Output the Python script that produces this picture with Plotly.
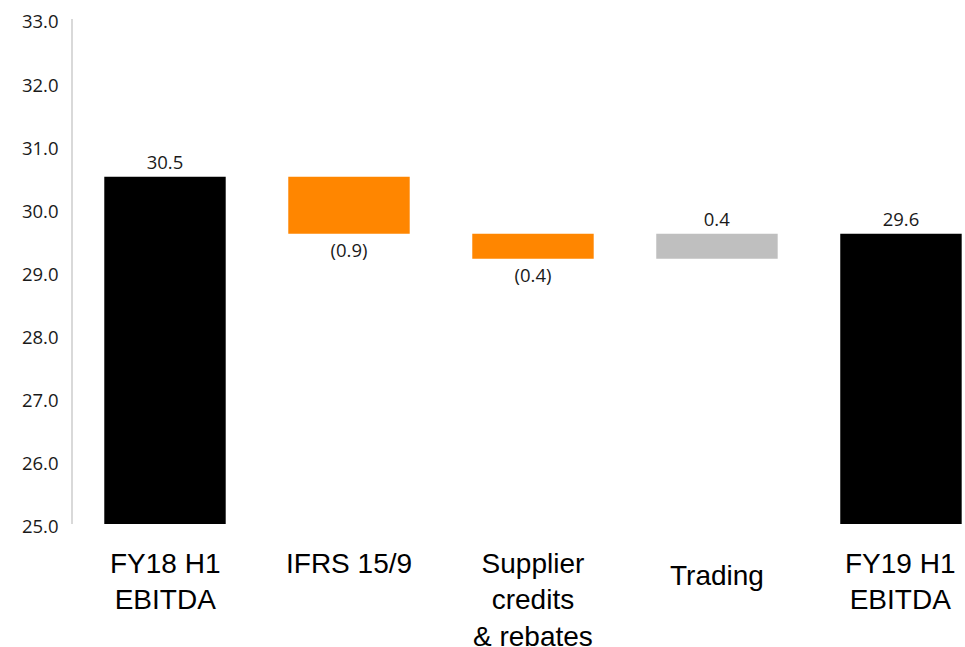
import plotly.graph_objects as go

# EBITDA bridge, FY18 H1 -> FY19 H1
categories = ["FY18 H1<br>EBITDA", "IFRS 15/9", "Supplier<br>credits<br>& rebates", "Trading", "FY19 H1<br>EBITDA"]
values = [30.5, -0.9, -0.4, 0.4, 29.6]
measures = ["absolute", "relative", "relative", "relative", "total"]
value_labels = ["30.5", "(0.9)", "(0.4)", "0.4", "29.6"]
bar_colors = ["#000000", "#FF8600", "#FF8600", "#BFBFBF", "#000000"]
y_ticks = [25, 26, 27, 28, 29, 30, 31, 32, 33]
label_drop = [0, 0, 0, 12, 0]  # extra downward offset of each category label (px)

axis_floor = y_ticks[0]

# Build floating bars: each bar starts at a base and spans a signed height
bases, heights = [], []
running = 0.0
for v, m in zip(values, measures):
    if m == "absolute":
        bases.append(axis_floor)
        heights.append(v - axis_floor)
        running = v
    elif m == "relative":
        bases.append(running)
        heights.append(v)
        running += v
    else:
        bases.append(axis_floor)
        heights.append(running - axis_floor)

x_idx = list(range(len(categories)))

num_font = dict(family="Open Sans", size=18.5, color="#1A1A1A")

fig = go.Figure(
    go.Bar(
        x=x_idx,
        y=heights,
        base=bases,
        marker=dict(color=bar_colors, line=dict(width=0)),
        width=0.66,
        text=value_labels,
        textposition="outside",
        textfont=num_font,
        cliponaxis=False,
        hoverinfo="skip",
    )
)

for i, cat in enumerate(categories):
    fig.add_annotation(
        x=i, xref="x",
        y=0, yref="paper",
        yanchor="top",
        yshift=-23 - label_drop[i],
        borderpad=0,
        text=cat,
        showarrow=False,
        font=dict(family="Liberation Sans, Arial", size=28, color="#000000"),
        align="center",
    )

fig.update_layout(
    width=965,
    height=647,
    margin=dict(l=73, r=0, t=19, b=123),
    paper_bgcolor="white",
    plot_bgcolor="white",
    showlegend=False,
    xaxis=dict(
        range=[-0.5, 4.348],
        showticklabels=False,
        showgrid=False,
        zeroline=False,
        showline=False,
        ticks="",
    ),
    yaxis=dict(
        range=[axis_floor, y_ticks[-1]],
        tickvals=y_ticks,
        ticktext=[f"{t:.1f}" for t in y_ticks],
        showgrid=False,
        zeroline=False,
        showline=True,
        linecolor="#D9D9D9",
        linewidth=1.5,
        ticks="",
        ticklabelstandoff=9,
        ticklabelshift=3,
        tickfont=num_font,
    ),
)

fig.write_html("out.html")
